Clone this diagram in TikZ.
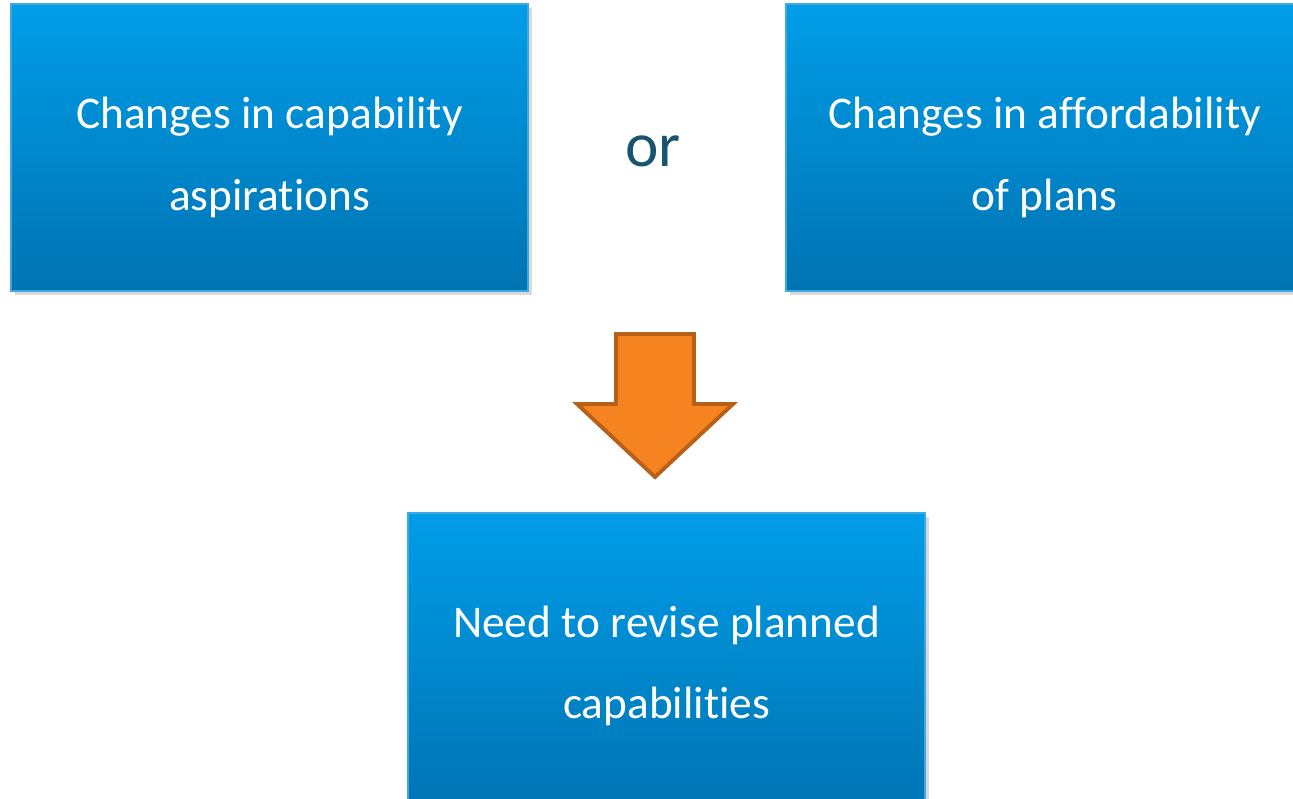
\documentclass[tikz,border=0pt]{standalone}
\usepackage{fontspec}
\setmainfont{Carlito}[Ligatures=NoCommon]
\usetikzlibrary{shadows}
\definecolor{boxtop}{RGB}{0,157,232}
\definecolor{boxbottom}{RGB}{0,115,178}
\definecolor{boxline}{RGB}{60,170,225}
\definecolor{arrowfill}{RGB}{245,131,32}
\definecolor{arrowline}{RGB}{184,96,24}
\definecolor{ortext}{RGB}{24,84,112}

\begin{document}
\begin{tikzpicture}[x=0.02cm,y=-0.02cm,
	planbox/.style={draw=boxline,line width=0.6pt,top color=boxtop,bottom color=boxbottom,
		minimum width=517*0.02cm,minimum height=287*0.02cm,
		drop shadow={opacity=0.3,shadow xshift=2pt,shadow yshift=-2.5pt}},
	plantext/.style={text width=480*0.02cm,align=center,text=white,
		font=\fontsize{25.8}{46.5}\selectfont,
		execute at begin node={\spaceskip=0.23em\relax}}]
				\useasboundingbox (0,0) rectangle (1293,798);
				% Causes
				\node[planbox] (capbox) at (269.5,147.5) {};
				\node[plantext,yshift=-10*0.02cm] (captxt) at (capbox.center) {Changes in capability\\aspirations};
				\node[planbox] (affbox) at (1044.5,147.5) {};
				\node[plantext,yshift=-10*0.02cm] (afftxt) at (affbox.center) {Changes in affordability\\of plans};
				\node[text=ortext,font=\fontsize{36}{40}\selectfont] (ortxt) at (653,151) {or};
				
				% Down arrow
				\draw[fill=arrowfill,draw=arrowline,line width=2.2pt,line join=miter]
					(616,334) -- (694,334) -- (694,404) -- (733,404) -- (655,477)
					-- (577,404) -- (616,404) -- cycle;
				
				% Result
				\node[planbox,minimum height=300*0.02cm] (revbox) at (666.5,663) {};
				\node[plantext,yshift=-3*0.02cm] (revtxt) at (revbox.center) {Need to revise planned\\capabilities};
			\end{tikzpicture}
\end{document}
